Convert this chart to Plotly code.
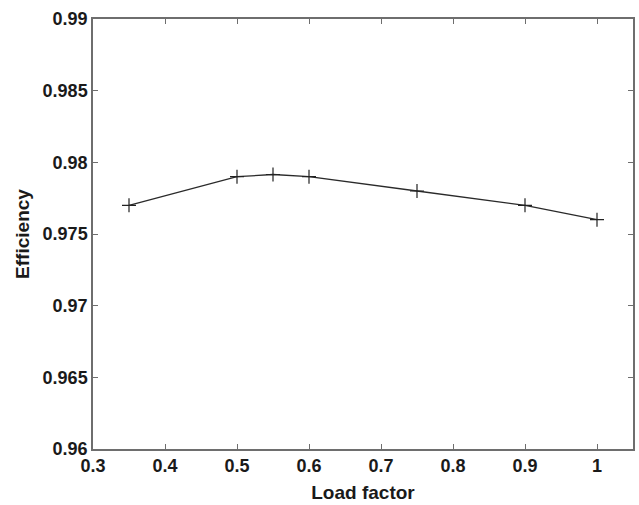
import plotly.graph_objects as go

load_factor = [0.35, 0.5, 0.55, 0.6, 0.75, 0.9, 1.0]
efficiency = [0.977, 0.979, 0.97915, 0.979, 0.978, 0.977, 0.976]
x_ticks = [0.3, 0.4, 0.5, 0.6, 0.7, 0.8, 0.9, 1.0]
x_tick_labels = ["0.3", "0.4", "0.5", "0.6", "0.7", "0.8", "0.9", "1"]
y_ticks = [0.96, 0.965, 0.97, 0.975, 0.98, 0.985, 0.99]
y_tick_labels = ["0.96", "0.965", "0.97", "0.975", "0.98", "0.985", "0.99"]

fig = go.Figure()
fig.add_trace(go.Scatter(
    x=load_factor, y=efficiency, mode="lines+markers",
    line=dict(color="#2a2a2a", width=1.3),
    marker=dict(symbol="cross-thin", size=10, line=dict(color="#222222", width=1.2)),
    showlegend=False,
))

axis_common = dict(
    showgrid=False, zeroline=False, showline=True, linecolor="#6e6e6e", linewidth=1.5,
    mirror="ticks", ticks="inside", ticklen=5, tickwidth=1, tickcolor="#6e6e6e",
    tickfont=dict(family="Liberation Sans", size=18, color="#1a1a1a"),
    title_font=dict(family="Liberation Sans", size=19, color="#1a1a1a"),
)
fig.update_xaxes(range=[0.3, 1.05], tickvals=x_ticks,
                 ticktext=["<b>%s</b>" % t for t in x_tick_labels],
                 title_text="<b>Load factor</b>", title_standoff=10, **axis_common)
fig.update_yaxes(range=[0.96, 0.99], tickvals=y_ticks,
                 ticktext=["<b>%s</b>" % t for t in y_tick_labels],
                 title_text="<b>Efficiency</b>", title_standoff=8, **axis_common)
fig.update_layout(
    width=639, height=505, margin=dict(l=93, r=4, t=19, b=56),
    plot_bgcolor="white", paper_bgcolor="white",
    font=dict(family="Liberation Sans", size=18),
)
fig.write_html("out.html")
